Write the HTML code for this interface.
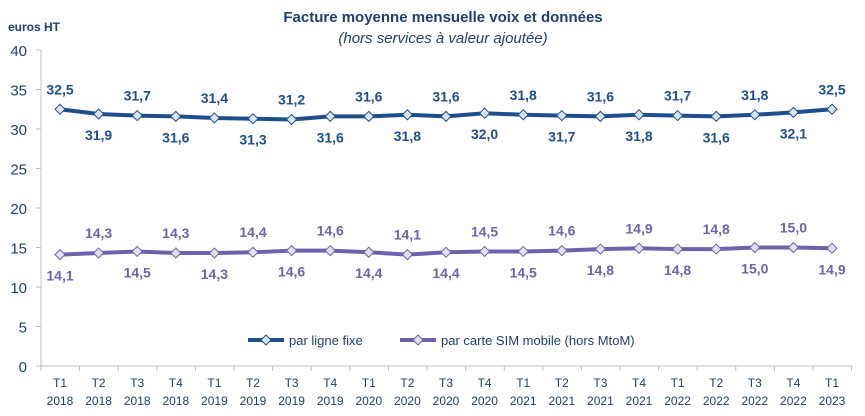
<!DOCTYPE html>
<html><head><meta charset="utf-8"><style>
body{margin:0;background:#fff;width:865px;height:416px;overflow:hidden}
svg{display:block;font-family:"Liberation Sans",sans-serif}
</style></head><body>
<svg id="s" width="865" height="416" xmlns="http://www.w3.org/2000/svg">
<text x="443" y="22" text-anchor="middle" font-size="15" font-weight="bold" fill="#1F3F6E">Facture moyenne mensuelle voix et données</text>
<text x="443" y="43" text-anchor="middle" font-size="15" font-style="italic" fill="#1F3F6E">(hors services à valeur ajoutée)</text>
<text x="8" y="31" font-size="12" font-weight="bold" fill="#1F3F6E">euros HT</text>
<line x1="41" y1="50" x2="41" y2="366" stroke="#bfbfbf"/>
<line x1="41" y1="366" x2="852" y2="366" stroke="#bfbfbf"/>
<g id="g"></g>
<line x1="248" y1="340" x2="284" y2="340" stroke="#1F4E8C" stroke-width="4"/>
<path d="M266 335 L271 340 L266 345 L261 340Z" fill="#dce6f2" stroke="#1F4E8C"/>
<text x="289" y="345" font-size="13" fill="#1F3F6E">par ligne fixe</text>
<line x1="400" y1="340" x2="436" y2="340" stroke="#6F62AC" stroke-width="4"/>
<path d="M418 335 L423 340 L418 345 L413 340Z" fill="#e2e0f0" stroke="#6F62AC"/>
<text x="441" y="345" font-size="13" fill="#1F3F6E">par carte SIM mobile (hors MtoM)</text>
</svg>
<script>
var F=[32.5,31.9,31.7,31.6,31.4,31.3,31.2,31.6,31.6,31.8,31.6,32.0,31.8,31.7,31.6,31.8,31.7,31.6,31.8,32.1,32.5];
var M=[14.1,14.3,14.5,14.3,14.3,14.4,14.6,14.6,14.4,14.1,14.4,14.5,14.5,14.6,14.8,14.9,14.8,14.8,15.0,15.0,14.9];
var h='';
function X(i){return 60+38.6*i}function Y(v){return 366-7.9*v}
for(var k=0;k<=8;k++){var y=366-39.5*k;h+='<line x1="36" y1="'+y+'" x2="41" y2="'+y+'" stroke="#bfbfbf"/><text x="27" y="'+(y+6)+'" text-anchor="end" font-size="15" fill="#1F3F6E">'+(k*5)+'</text>';}
for(var i=0;i<=21;i++){var x=41+38.6*i;h+='<line x1="'+x+'" y1="366" x2="'+x+'" y2="371" stroke="#bfbfbf"/>';}
for(var i=0;i<21;i++){var x=X(i);h+='<text x="'+x+'" y="387" text-anchor="middle" font-size="12" fill="#1F3F6E">T'+(i%4+1)+'</text><text x="'+x+'" y="405" text-anchor="middle" font-size="12" fill="#1F3F6E">'+(2018+Math.floor(i/4))+'</text>';}
function series(D,c,f,up){var p='';for(var i=0;i<21;i++)p+=(i?'L':'M')+X(i)+' '+Y(D[i]);
h+='<path d="'+p+'" fill="none" stroke="'+c+'" stroke-width="4" stroke-linejoin="round"/>';
for(var i=0;i<21;i++){var x=X(i),y=Y(D[i]);h+='<path d="M'+x+' '+(y-5)+'L'+(x+5)+' '+y+'L'+x+' '+(y+5)+'L'+(x-5)+' '+y+'Z" fill="'+f+'" stroke="'+c+'"/>';
var a=(i%2==0)==up;h+='<text x="'+x+'" y="'+(a?y-15:y+26)+'" text-anchor="middle" font-size="14" font-weight="bold" fill="'+c+'">'+D[i].toFixed(1).replace('.',',')+'</text>';}}
series(F,'#1F4E8C','#dce6f2',true);
series(M,'#6F62AC','#e2e0f0',false);
document.getElementById('g').innerHTML=h;
</script>
</body></html>
